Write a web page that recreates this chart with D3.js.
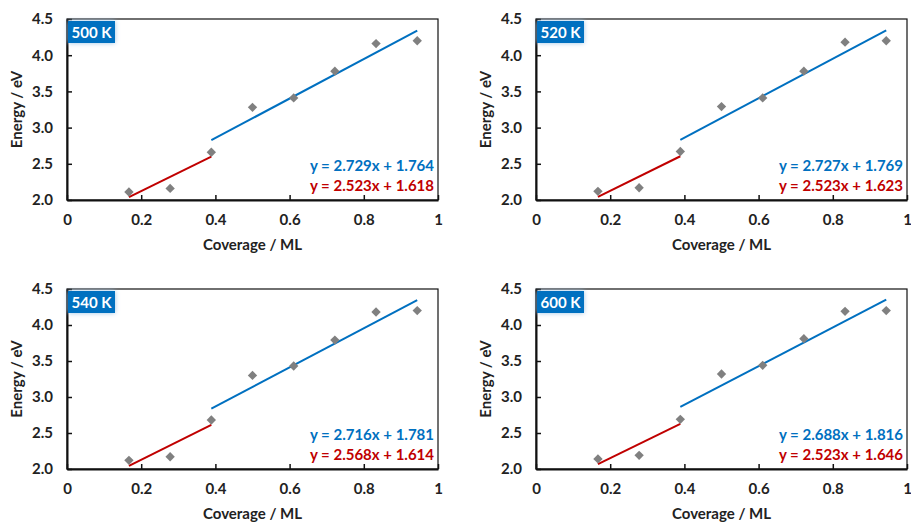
<!DOCTYPE html>
<meta charset="UTF-8">
<style>
  body { margin: 0; background: #fff; }
  text { font-family: Lato, "Open Sans", sans-serif; font-weight: bold; }
  .tick text { font-size: 15px; fill: #222; }
</style>
<body>
<script src="https://d3js.org/d3.v7.min.js"></script>
<script>

// coverage (ML) of each point, same for every temperature
var coverage = [0.167, 0.278, 0.389, 0.500, 0.611, 0.722, 0.833, 0.944];

var temps = ["500 K", "520 K", "540 K", "600 K"];

// energies (eV)
var energy500 = [2.11, 2.16, 2.66, 3.28, 3.41, 3.78, 4.16, 4.20];
var energy520 = [2.12, 2.17, 2.67, 3.29, 3.41, 3.78, 4.18, 4.20];
var energy540 = [2.12, 2.17, 2.68, 3.30, 3.43, 3.79, 4.18, 4.20];
var energy600 = [2.14, 2.19, 2.69, 3.32, 3.44, 3.81, 4.19, 4.20];

// linear fits: [slope, intercept]
var highFit = [[2.729, 1.764], [2.727, 1.769], [2.716, 1.781], [2.688, 1.816]];
var lowFit  = [[2.523, 1.618], [2.523, 1.623], [2.568, 1.614], [2.523, 1.646]];

var xTicks = [0, 0.2, 0.4, 0.6, 0.8, 1];
var yTicks = [2.0, 2.5, 3.0, 3.5, 4.0, 4.5];

var energies = [energy500, energy520, energy540, energy600];

var blue = "#0070c0", red = "#c00000", grey = "#808080";

var svg = d3.select("body").append("svg")
    .attr("width", 911)
    .attr("height", 523);

// soft glow behind the temperature badge
var defs = svg.append("defs");
var glow = defs.append("filter").attr("id", "glow")
    .attr("x", "-30%").attr("y", "-40%").attr("width", "160%").attr("height", "180%");
glow.append("feGaussianBlur").attr("in", "SourceAlpha").attr("stdDeviation", 2.5).attr("result", "b");
glow.append("feFlood").attr("flood-color", "#9cc3e6").attr("result", "c");
glow.append("feComposite").attr("in", "c").attr("in2", "b").attr("operator", "in").attr("result", "s");
var merge = glow.append("feMerge");
merge.append("feMergeNode").attr("in", "s");
merge.append("feMergeNode").attr("in", "SourceGraphic");

// plot areas of the four panels
var panels = [
  {left: 67,  top: 19,  width: 371, height: 181},
  {left: 536, top: 19,  width: 371, height: 181},
  {left: 67,  top: 289, width: 371, height: 180},
  {left: 536, top: 289, width: 371, height: 180}
];

panels.forEach(function(p, i) {
  var g = svg.append("g")
      .attr("transform", "translate(" + p.left + "," + p.top + ")");

  var x = d3.scaleLinear().domain([0, 1]).range([0, p.width]);
  var y = d3.scaleLinear().domain([2, 4.5]).range([p.height, 0]);

  // frame
  g.append("rect")
      .attr("width", p.width)
      .attr("height", p.height)
      .attr("fill", "none")
      .attr("stroke", "#111")
      .attr("stroke-width", 1.2);

  // axes with ticks pointing inside
  var xAxis = g.append("g")
      .attr("transform", "translate(0," + p.height + ")")
      .call(d3.axisBottom(x).tickValues(xTicks)
            .tickFormat(function(d) { return d === 0 || d === 1 ? d : d3.format(".1f")(d); })
            .tickSizeInner(-5).tickSizeOuter(0).tickPadding(14));
  xAxis.select(".domain").attr("stroke", "#111").attr("stroke-width", 2);
  xAxis.selectAll(".tick line").attr("stroke", "#111").attr("stroke-width", 1.5);
  xAxis.selectAll(".tick text").attr("dy", "0.71em");

  var yAxis = g.append("g")
      .call(d3.axisLeft(y).tickValues(yTicks).tickFormat(d3.format(".1f"))
            .tickSizeInner(-5).tickSizeOuter(0).tickPadding(14));
  yAxis.select(".domain").attr("stroke", "#111").attr("stroke-width", 2);
  yAxis.selectAll(".tick line").attr("stroke", "#111").attr("stroke-width", 1.5);

  // axis titles
  g.append("text")
      .attr("x", p.width / 2)
      .attr("y", p.height + 50)
      .attr("text-anchor", "middle")
      .style("font-size", "15px")
      .attr("fill", "#222")
      .text("Coverage / ML");

  g.append("text")
      .attr("transform", "translate(-45," + (p.height / 2) + ") rotate(-90)")
      .attr("text-anchor", "middle")
      .style("font-size", "15px")
      .attr("fill", "#222")
      .text("Energy / eV");

  // fit lines
  var lowX = [coverage[0], coverage[2]];
  var highX = [coverage[2], coverage[coverage.length - 1]];

  g.append("line")
      .attr("x1", x(lowX[0])).attr("x2", x(lowX[1]))
      .attr("y1", y(lowFit[i][0] * lowX[0] + lowFit[i][1]))
      .attr("y2", y(lowFit[i][0] * lowX[1] + lowFit[i][1]))
      .attr("stroke", red).attr("stroke-width", 2);

  g.append("line")
      .attr("x1", x(highX[0])).attr("x2", x(highX[1]))
      .attr("y1", y(highFit[i][0] * highX[0] + highFit[i][1]))
      .attr("y2", y(highFit[i][0] * highX[1] + highFit[i][1]))
      .attr("stroke", blue).attr("stroke-width", 2);

  // data points (grey diamonds)
  var pts = coverage.map(function(c, k) { return [c, energies[i][k]]; });
  g.selectAll("path.pt")
      .data(pts)
    .enter().append("path")
      .attr("class", "pt")
      .attr("d", d3.symbol().type(d3.symbolDiamond2).size(56))
      .attr("transform", function(d) { return "translate(" + x(d[0]) + "," + y(d[1]) + ")"; })
      .attr("fill", grey);

  // equations
  g.append("text")
      .attr("x", p.width - 4)
      .attr("y", p.height - 29)
      .attr("text-anchor", "end")
      .style("font-size", "15px")
      .attr("fill", blue)
      .text("y = " + highFit[i][0].toFixed(3) + "x + " + highFit[i][1].toFixed(3));

  g.append("text")
      .attr("x", p.width - 4)
      .attr("y", p.height - 9)
      .attr("text-anchor", "end")
      .style("font-size", "15px")
      .attr("fill", red)
      .text("y = " + lowFit[i][0].toFixed(3) + "x + " + lowFit[i][1].toFixed(3));

  // temperature badge
  g.append("rect")
      .attr("x", 1).attr("y", 2)
      .attr("width", 47).attr("height", 22)
      .attr("fill", blue)
      .attr("filter", "url(#glow)");

  g.append("text")
      .attr("x", 24.5).attr("y", 18.5)
      .attr("text-anchor", "middle")
      .style("font-size", "15px")
      .attr("fill", "#fff")
      .text(temps[i]);
});

</script>
</body>
